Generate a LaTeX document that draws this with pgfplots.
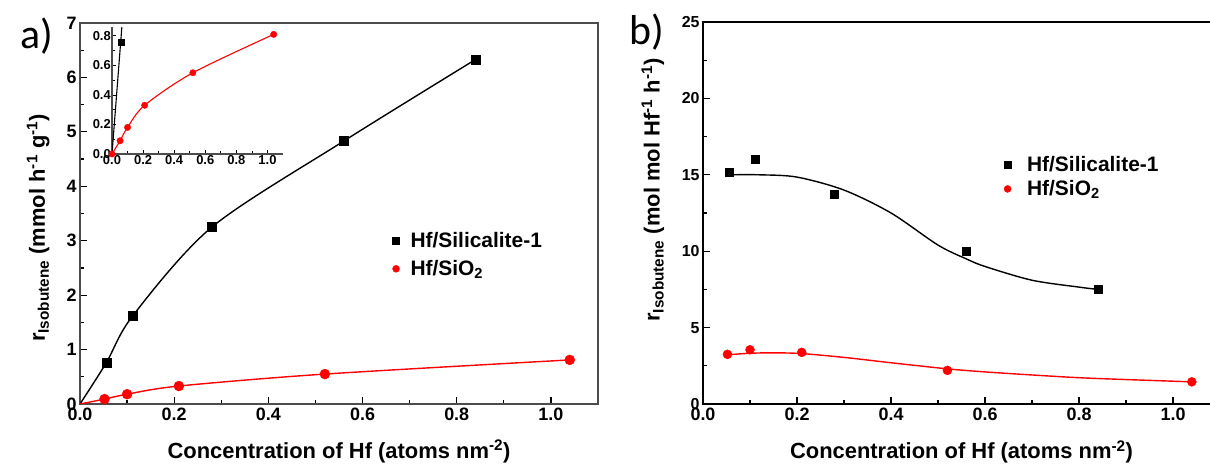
\documentclass[border=0pt]{standalone}
\usepackage{fontspec}
\setmainfont{Liberation Sans}
\newfontfamily\carlito{Carlito}
\usepackage{pgfplots}
\pgfplotsset{compat=1.18}
\pgfplotsset{
  panel/.style={
    scale only axis,
    xmin=0, xmax=1.1,
    xtick={0,0.2,0.4,0.6,0.8,1.0},
    minor x tick num=1,
    xtick pos=bottom, ytick pos=left,
    tick align=inside,
    major tick length=7bp, minor tick length=4bp,
    every tick/.style={black, line width=1.2bp},
    /pgf/number format/assume math mode=true,
    xticklabel style={font=\fontsize{18}{20}\selectfont\bfseries,
      /pgf/number format/.cd, fixed, fixed zerofill, precision=1},
    yticklabel style={font=\fontsize{18}{20}\selectfont\bfseries},
    xlabel style={font=\fontsize{22}{24}\selectfont\bfseries},
    ylabel style={font=\fontsize{22}{24}\selectfont\bfseries},
    xlabel={Concentration of Hf (atoms nm\textsuperscript{-2})},
    legend style={draw=none, fill=none, font=\fontsize{21}{23}\selectfont\bfseries,
      inner sep=0pt, column sep=9bp},
    legend cell align=left,
    legend image post style={mark size=3.5bp},
  },
}
\begin{document}
\begin{tikzpicture}
\useasboundingbox (0,0) rectangle (1210bp,464bp);
\clip (0,0) rectangle (1210bp,464bp);

% ---------------- panel a ----------------
\begin{axis}[panel,
  at={(80bp,60bp)}, anchor=south west,
  width=518bp, height=381bp,
  ymin=0, ymax=7, ytick={0,1,2,3,4,5,6,7}, minor y tick num=1,
  axis line style={black!70, line width=2bp},
  ylabel={r\textsubscript{Isobutene} (mmol h\textsuperscript{-1} g\textsuperscript{-1})},
  ylabel style={at={(axis description cs:-0.081,0.462)}, anchor=center},
  xlabel style={at={(axis description cs:0.5,-0.125)}, anchor=center},
  legend style={at={(axis description cs:0.603,0.455)}, anchor=north west, row sep=7bp},
]
\addplot[black, line width=1.4bp, smooth, forget plot] coordinates
  {(0,0) (0.056,0.76) (0.112,1.62) (0.28,3.25) (0.56,4.83) (0.84,6.33)};
\addplot[red, line width=1.4bp, smooth, forget plot] coordinates
  {(0,0) (0.052,0.09) (0.10,0.18) (0.21,0.33) (0.52,0.55) (1.04,0.81)};
\addplot[only marks, mark=square*, mark size=4.5bp, black] coordinates
  {(0.056,0.76) (0.112,1.62) (0.28,3.25) (0.56,4.83) (0.84,6.33)};
\addplot[only marks, mark=*, mark size=5bp, red] coordinates
  {(0.052,0.09) (0.10,0.18) (0.21,0.33) (0.52,0.55) (1.04,0.81)};
\legend{Hf/Silicalite-1, Hf/SiO\textsubscript{2}}
\end{axis}

% ---------------- inset ----------------
\begin{axis}[
  scale only axis,
  at={(112bp,310bp)}, anchor=south west,
  width=171bp, height=127bp,
  xmin=0, xmax=1.1, ymin=0, ymax=0.86,
  axis lines=left, axis line style={-, black!70, line width=1.2bp},
  xtick={0,0.2,0.4,0.6,0.8,1.0}, ytick={0,0.2,0.4,0.6,0.8},
  minor x tick num=1, minor y tick num=1,
  tick align=inside,
  major tick length=4bp, minor tick length=2.5bp,
  every tick/.style={black, line width=0.8bp},
  /pgf/number format/assume math mode=true,
  xticklabel style={font=\fontsize{13}{14}\selectfont\bfseries, inner sep=1bp,
    /pgf/number format/.cd, fixed, fixed zerofill, precision=1},
  yticklabel style={font=\fontsize{13}{14}\selectfont\bfseries, inner sep=1bp,
    /pgf/number format/.cd, fixed, fixed zerofill, precision=1},
]
\addplot[black, line width=1.1bp] coordinates {(0,0) (0.056,0.76) (0.0635,0.86)};
\addplot[red, line width=1.1bp, smooth] coordinates
  {(0,0) (0.052,0.09) (0.10,0.18) (0.21,0.33) (0.52,0.55) (1.04,0.81)};
\addplot[only marks, mark=square*, mark size=3bp, black] coordinates {(0.056,0.76)};
\addplot[only marks, mark=*, mark size=3.2bp, red] coordinates
  {(0,0) (0.052,0.09) (0.10,0.18) (0.21,0.33) (0.52,0.55) (1.04,0.81)};
\end{axis}

% ---------------- panel b ----------------
\begin{axis}[panel,
  at={(703bp,60bp)}, anchor=south west,
  width=517bp, height=382bp,
  ymin=0, ymax=25, ytick={0,5,10,15,20,25}, minor y tick num=1,
  axis line style={black, line width=1.6bp},
  yticklabel style={font=\fontsize{16}{18}\selectfont\bfseries},
  ylabel={r\textsubscript{Isobutene} (mol mol Hf\textsuperscript{-1} h\textsuperscript{-1})},
  ylabel style={at={(axis description cs:-0.097,0.56)}, anchor=center},
  xlabel style={at={(axis description cs:0.5,-0.125)}, anchor=center},
  legend style={at={(axis description cs:0.582,0.655)}, anchor=north west, row sep=4bp, column sep=14bp},
]
\addplot[black, line width=1.4bp, smooth, forget plot] coordinates
  {(0.056,15.0) (0.12,15.0) (0.2,14.85) (0.3,14.0) (0.4,12.5) (0.5,10.4) (0.56,9.5) (0.6,9.0) (0.7,8.1) (0.8,7.65) (0.84,7.5)};
\addplot[red, line width=1.4bp, smooth, forget plot] coordinates
  {(0.052,3.22) (0.1,3.32) (0.15,3.35) (0.21,3.3) (0.3,3.05) (0.4,2.7) (0.52,2.3) (0.6,2.1) (0.7,1.9) (0.8,1.72) (0.9,1.6) (1.04,1.45)};
\addplot[only marks, mark=square*, mark size=4bp, black] coordinates
  {(0.056,15.2) (0.112,16.05) (0.28,13.7) (0.56,10.0) (0.84,7.5)};
\addplot[only marks, mark=*, mark size=4.5bp, red] coordinates
  {(0.052,3.25) (0.10,3.55) (0.21,3.38) (0.52,2.2) (1.04,1.45)};
\legend{Hf/Silicalite-1, Hf/SiO\textsubscript{2}}
\end{axis}

\node[font=\carlito\fontsize{42}{44}\selectfont] at (37bp,428bp) {a)};
\node[font=\carlito\fontsize{42}{44}\selectfont] at (647bp,432bp) {b)};
\end{tikzpicture}
\end{document}
